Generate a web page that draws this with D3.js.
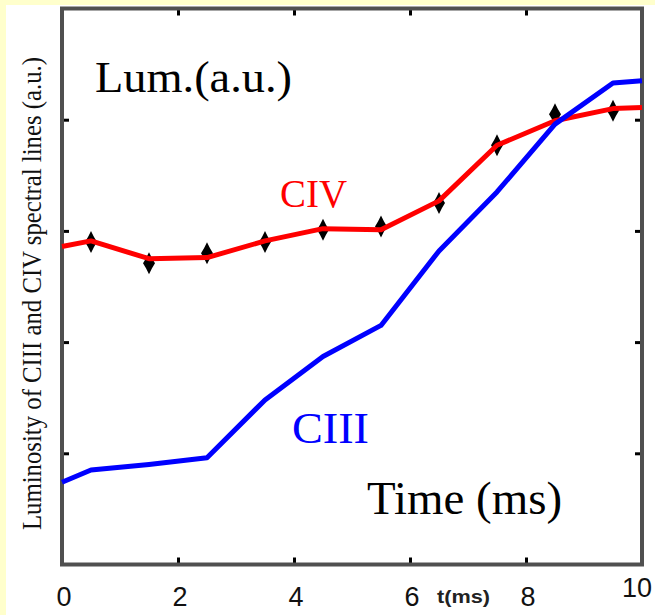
<!DOCTYPE html>
<html>
<head>
<meta charset="utf-8">
<script src="https://cdn.jsdelivr.net/npm/d3@7"></script>
<style>
	html, body { margin: 0; padding: 0; background: #ffffcc; }
	svg { display: block; }
</style>
</head>
<body>
<svg width="655" height="615"></svg>
<script>
// time axis (ms)
let xTicks = [0, 2, 4, 6, 8, 10]
let yTicks = [1, 2, 3, 4]

// CIV line (red) and its measured points
let civT = [0, 0.5, 1.5, 2.5, 3.5, 4.5, 5.5, 6.5, 7.5, 8.5, 9.5, 10]
let civLum = [2.86, 2.91, 2.75, 2.76, 2.91, 3.02, 3.01, 3.27, 3.77, 3.99, 4.10, 4.11]
let civPointT = [0.5, 1.5, 2.5, 3.5, 4.5, 5.5, 6.5, 7.5, 8.5, 9.5]
let civPointLum = [2.90, 2.71, 2.80, 2.90, 3.01, 3.04, 3.25, 3.77, 4.05, 4.08]

// CIII line (blue)
let ciiiT = [0, 0.5, 1.5, 2.5, 3.5, 4.5, 5.5, 6.5, 7.5, 8.5, 9.5, 10]
let ciiiLum = [0.74, 0.85, 0.90, 0.96, 1.48, 1.87, 2.15, 2.82, 3.35, 3.96, 4.33, 4.35]

let svg = d3.select('svg')

// white page area inside the yellow frame
svg.append('rect')
	.attr('x', 6).attr('y', 5)
	.attr('width', 649).attr('height', 610)
	.attr('fill', '#fff')

let x = d3.scaleLinear([0, 10], [62, 642])
let y = d3.scaleLinear([0, 5], [564.5, 8.5])

let plot = svg.append('g')

// ticks on all four sides, pointing inward
let tickStyle = g => {
	g.select('.domain').remove()
	g.selectAll('.tick line').attr('stroke', '#000').attr('stroke-width', 3)
	g.selectAll('.tick text').remove()
}
plot.append('g').attr('transform', 'translate(0,' + y(0) + ')')
	.call(d3.axisBottom(x).tickValues([2, 4, 6, 8]).tickSize(-7)).call(tickStyle)
plot.append('g').attr('transform', 'translate(0,' + y(5) + ')')
	.call(d3.axisTop(x).tickValues([2, 4, 6, 8]).tickSize(-7)).call(tickStyle)
plot.append('g').attr('transform', 'translate(' + x(0) + ',0)')
	.call(d3.axisLeft(y).tickValues(yTicks).tickSize(-7)).call(tickStyle)
plot.append('g').attr('transform', 'translate(' + x(10) + ',0)')
	.call(d3.axisRight(y).tickValues(yTicks).tickSize(-7)).call(tickStyle)

// frame
plot.append('rect')
	.attr('x', x(0)).attr('y', y(5))
	.attr('width', x(10) - x(0)).attr('height', y(0) - y(5))
	.attr('fill', 'none')
	.attr('stroke', '#505050')
	.attr('stroke-width', 4)

let line = d3.line().x(d => x(d[0])).y(d => y(d[1]))

// CIV markers
let star = 'M0,-11L3,-5L6,0L3,5L0,11L-3,5L-6,0L-3,-5Z'
plot.selectAll('path.mark')
	.data(d3.zip(civPointT, civPointLum))
	.join('path')
	.attr('class', 'mark')
	.attr('d', star)
	.attr('transform', d => 'translate(' + x(d[0]) + ',' + y(d[1]) + ')')
	.attr('fill', '#000')

plot.append('path')
	.datum(d3.zip(civT, civLum))
	.attr('d', line)
	.attr('fill', 'none')
	.attr('stroke', '#ff0000')
	.attr('stroke-width', 5)
	.attr('stroke-linejoin', 'round')

plot.append('path')
	.datum(d3.zip(ciiiT, ciiiLum))
	.attr('d', line)
	.attr('fill', 'none')
	.attr('stroke', '#0000ff')
	.attr('stroke-width', 5)
	.attr('stroke-linejoin', 'round')

// x tick labels
svg.selectAll('text.xlab')
	.data(xTicks)
	.join('text')
	.attr('class', 'xlab')
	.attr('x', d => d == 10 ? x(d) - 5 : x(d) + 2)
	.attr('y', d => d == 10 ? 597 : 606)
	.attr('text-anchor', 'middle')
	.attr('font-family', 'Liberation Sans, Arial, sans-serif')
	.attr('font-size', 27)
	.attr('fill', '#111')
	.text(d => d)

svg.append('text')
	.attr('x', 437).attr('y', 603)
	.attr('font-family', 'Liberation Sans, Arial, sans-serif')
	.attr('font-weight', 'bold')
	.attr('font-size', 18)
	.attr('textLength', 53)
	.attr('lengthAdjust', 'spacingAndGlyphs')
	.attr('fill', '#222')
	.text('t(ms)')

// y axis title
svg.append('text')
	.attr('transform', 'translate(41,530) rotate(-90)')
	.attr('font-family', 'Liberation Serif, Times New Roman, serif')
	.attr('font-size', 27)
	.attr('textLength', 473)
	.attr('lengthAdjust', 'spacingAndGlyphs')
	.attr('fill', '#111')
	.text('Luminosity of CIII and CIV spectral lines (a.u.)')

let serif = 'Liberation Serif, Times New Roman, serif'

svg.append('text')
	.attr('x', 95).attr('y', 92)
	.attr('font-family', serif).attr('font-size', 45)
	.attr('textLength', 197).attr('lengthAdjust', 'spacingAndGlyphs')
	.attr('fill', '#000')
	.text('Lum.(a.u.)')

svg.append('text')
	.attr('x', 367).attr('y', 514)
	.attr('font-family', serif).attr('font-size', 46)
	.attr('textLength', 195).attr('lengthAdjust', 'spacingAndGlyphs')
	.attr('fill', '#000')
	.text('Time (ms)')

svg.append('text')
	.attr('x', 280).attr('y', 207)
	.attr('font-family', serif).attr('font-size', 40)
	.attr('textLength', 67).attr('lengthAdjust', 'spacingAndGlyphs')
	.attr('fill', '#ff0000')
	.text('CIV')

svg.append('text')
	.attr('x', 292).attr('y', 443)
	.attr('font-family', serif).attr('font-size', 44)
	.attr('textLength', 77).attr('lengthAdjust', 'spacingAndGlyphs')
	.attr('fill', '#0000ff')
	.text('CIII')
</script>
</body>
</html>
